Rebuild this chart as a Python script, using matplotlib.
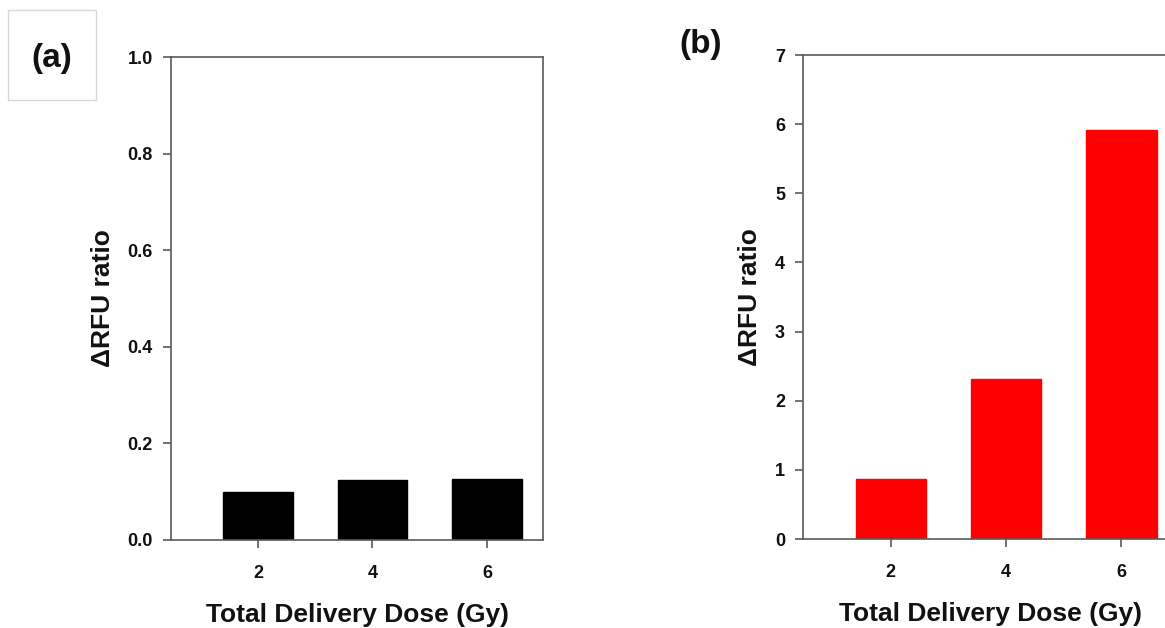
"""Two-panel bar chart: delta-RFU ratio vs total delivery dose."""
import matplotlib
matplotlib.use("Agg")
import matplotlib.pyplot as plt
from matplotlib.patches import Rectangle

plt.rcParams["font.family"] = ["Liberation Sans", "DejaVu Sans"]
plt.rcParams["font.weight"] = "bold"

# ── Data ─────────────────────────────────────────────────────────────────────
DOSES = [2, 4, 6]
RATIO_A = [0.100, 0.124, 0.127]
RATIO_B = [0.865, 2.32, 5.92]

A_YTICKS = [0.0, 0.2, 0.4, 0.6, 0.8, 1.0]
A_YTICKLABELS = ["0.0", "0.2", "0.4", "0.6", "0.8", "1.0"]
B_YTICKS = [0, 1, 2, 3, 4, 5, 6, 7]

XLABEL = "Total Delivery Dose (Gy)"
YLABEL = "ΔRFU ratio"

SPINE = "#5a5a5a"
TXT = "#111111"

W, H = 1165, 628
fig = plt.figure(figsize=(W / 100, H / 100), dpi=100)


def px_axes(left, top, right, bottom):
    return fig.add_axes([left / W, 1 - bottom / H, (right - left) / W, (bottom - top) / H])


def style(ax):
    for sp in ax.spines.values():
        sp.set_color(SPINE)
        sp.set_linewidth(1.2)
    ax.tick_params(axis="both", direction="out", length=6, width=1.2,
                   color=SPINE, labelcolor=TXT, labelsize=13)
    ax.tick_params(axis="y", pad=7)
    ax.tick_params(axis="x", pad=12)
    for lbl in ax.get_xticklabels() + ax.get_yticklabels():
        lbl.set_fontweight("bold")
    ax.set_xlabel(XLABEL, fontsize=19, fontweight="bold", color=TXT, labelpad=15)
    ax.set_ylabel(YLABEL, fontsize=19, fontweight="bold", color=TXT, labelpad=9)


# ── Panel (a) ────────────────────────────────────────────────────────────────
ax_a = px_axes(171, 57, 543, 540)
ax_a.bar(DOSES, RATIO_A, width=1.22, color="black", edgecolor="black")
ax_a.set_xlim(0.48, 6.98)
ax_a.set_ylim(0, 1.0)
ax_a.set_xticks(DOSES)
ax_a.set_xticklabels([str(d) for d in DOSES])
ax_a.set_yticks(A_YTICKS)
ax_a.set_yticklabels(A_YTICKLABELS)
style(ax_a)

# ── Panel (b) ────────────────────────────────────────────────────────────────
ax_b = px_axes(803, 55, 1178, 539)
ax_b.bar(DOSES, RATIO_B, width=1.22, color="#ff0000", edgecolor="#ff0000")
ax_b.set_xlim(0.48, 6.98)
ax_b.set_ylim(0, 7)
ax_b.set_xticks(DOSES)
ax_b.set_xticklabels([str(d) for d in DOSES])
ax_b.set_yticks(B_YTICKS)
ax_b.set_yticklabels([str(t) for t in B_YTICKS])
style(ax_b)

# ── Panel letters ────────────────────────────────────────────────────────────
fig.patches.append(Rectangle((8 / W, 1 - 100 / H), 88 / W, 90 / H,
                             transform=fig.transFigure, fill=False,
                             edgecolor="#d9d9d9", linewidth=1.0))
fig.text(52 / W, 1 - 59 / H, "(a)", fontsize=24, fontweight="bold",
         ha="center", va="center", color=TXT)
fig.text(701 / W, 1 - 44 / H, "(b)", fontsize=24, fontweight="bold",
         ha="center", va="center", color=TXT)

fig.savefig("out.png", dpi=100)
